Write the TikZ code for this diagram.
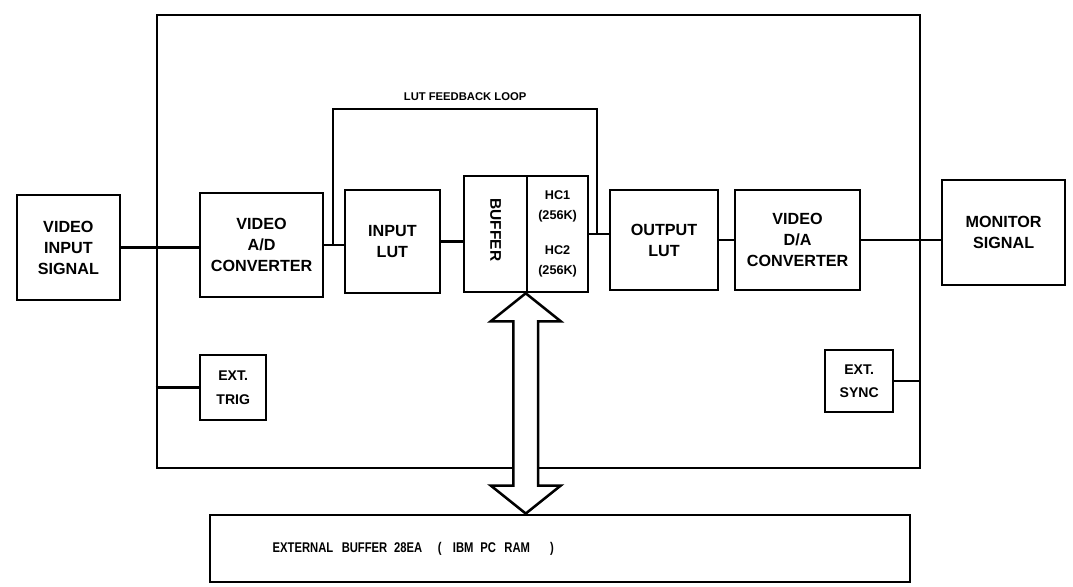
\documentclass[tikz,border=0pt]{standalone}
\usepackage{fontspec}
\setmainfont{Liberation Sans}
\usetikzlibrary{positioning, calc}

\begin{document}
\begin{tikzpicture}[
    box/.style={draw, rectangle, align=center, line width=1.8pt, font=\fontsize{11.5}{15}\selectfont\bfseries},
    small/.style={box, font=\fontsize{10}{17}\selectfont\bfseries},
    wire/.style={line width=1.8pt},
    bus/.style={line width=1.8pt, fill=white, line join=miter}
]
\useasboundingbox (0,0) rectangle (26.825,-14.65);

% Board
\node[draw, line width=1.8pt, minimum width=19.08cm, minimum height=11.33cm] (board) at (13.46, -6.04) {};

% Signal chain
\node[box, minimum width=2.58cm, minimum height=2.63cm] (vin) at (1.71, -6.19) {VIDEO\\INPUT\\SIGNAL};
\node[box, minimum width=3.08cm, minimum height=2.6cm] (adc) at (6.54, -6.13) {VIDEO\\A/D\\CONVERTER};
\node[box, minimum width=2.38cm, minimum height=2.58cm] (inlut) at (9.81, -6.04) {INPUT\\LUT};
\node[small, minimum width=1.58cm, minimum height=2.9cm] (buf) at (12.39, -5.85) {};
\node[rotate=-90, font=\fontsize{11}{12}\selectfont\bfseries] (buflabel) at ($(buf.center)+(0,0.1)$) {BUFFER};
\node[small, minimum width=1.53cm, minimum height=2.9cm, font=\fontsize{9}{14}\selectfont\bfseries] (hc) at (13.94, -5.85) {HC1\\(256K)\\[11pt]HC2\\(256K)};
\node[box, minimum width=2.7cm, minimum height=2.5cm] (outlut) at (16.6, -6.0) {OUTPUT\\LUT};
\node[box, minimum width=3.13cm, minimum height=2.5cm] (dac) at (19.94, -6.0) {VIDEO\\D/A\\CONVERTER};
\node[box, minimum width=3.08cm, minimum height=2.63cm] (mon) at (25.09, -5.81) {MONITOR\\SIGNAL};

% Trigger / sync
\node[small, minimum width=1.65cm, minimum height=1.63cm] (trig) at (5.83, -9.69) {EXT.\\TRIG};
\node[small, minimum width=1.7cm, minimum height=1.55cm] (sync) at (21.48, -9.53) {EXT.\\SYNC};

% External buffer
\node[box, minimum width=17.5cm, minimum height=1.68cm] (ext) at (14.0, -13.71) {};
\node[anchor=west, xscale=0.8, transform shape, font=\fontsize{10}{12}\selectfont\bfseries] (extlabel) at ($(ext.west)+(1.5,0)$)
    {EXTERNAL\hspace{7.5pt}BUFFER\hspace{6pt}28EA\hspace{14pt}(\hspace{10pt}IBM\hspace{6pt}PC\hspace{7.5pt}RAM\hspace{18pt})};

% Connections
\draw[wire] (vin.east) -- (vin.east -| adc.west);
\draw[wire] (adc.east) -- (adc.east -| inlut.west);
\draw[wire] (inlut.east) -- (inlut.east -| buf.west);
\draw[wire] (hc.east) -- (hc.east -| outlut.west);
\draw[wire] (outlut.east) -- (outlut.east -| dac.west);
\draw[wire] (dac.east) -- (dac.east -| mon.west);
\draw[wire] (trig.west -| board.west) -- (trig.west);
\draw[wire] (sync.east) -- (sync.east -| board.east);

% LUT feedback loop
\coordinate (fbin) at ($(adc.east)!0.45!(adc.east -| inlut.west)$);
\coordinate (fbout) at ($(hc.east)!0.4!(hc.east -| outlut.west)$);
\draw[wire] (fbin) -- ++(0,3.4) -| node[pos=0.25, above=2pt, font=\fontsize{8}{9}\selectfont\bfseries] {LUT FEEDBACK LOOP} (fbout);

% Bus to external buffer
\coordinate (bustop) at (hc.south west);
\coordinate (busbot) at (ext.north -| bustop);
\draw[bus] (bustop) -- ++(0.875,-0.7) -- ++(-0.565,0) -- ($(busbot)+(0.31,0.7)$) -- ++(0.565,0) -- (busbot)
    -- ++(-0.875,0.7) -- ++(0.565,0) -- ($(bustop)+(-0.31,-0.7)$) -- ++(-0.565,0) -- cycle;

\end{tikzpicture}
\end{document}
